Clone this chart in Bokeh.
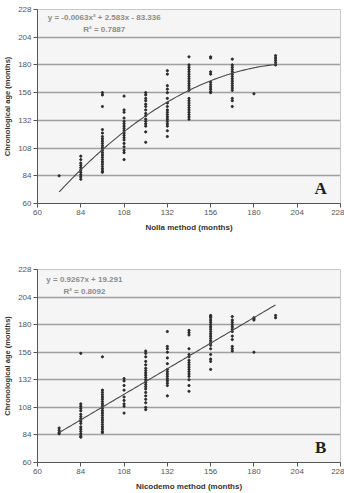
from bokeh.plotting import figure
from bokeh.layouts import column
from bokeh.models import ColumnDataSource, FixedTicker, Label
from bokeh.embed import file_html
from bokeh.resources import INLINE
import numpy as np

# ---- Nolla method (panel A): estimated age -> list of chronological ages
nolla = {
    72: [84],
    84: [81, 83, 85, 87, 89, 91, 93, 95, 98, 101],
    96: [156, 154, 144, 124, 121, 118, 116, 114, 112, 110, 108, 106, 104, 102,
         100, 98, 96, 94, 92, 90, 88, 87],
    108: [153, 141, 139, 134, 131, 129, 127, 125, 123, 121, 119, 117, 115, 112,
          109, 106, 104, 98],
    120: [156, 154, 151, 149, 146, 144, 141, 138, 136, 133, 131, 129, 127, 122,
          113],
    132: [175, 172, 162, 159, 156, 151, 147, 144, 141, 139, 137, 135, 133, 131,
          129, 127, 123, 118],
    144: [187, 180, 178, 176, 174, 172, 170, 168, 166, 164, 162, 160, 158, 151,
          149, 147, 145, 143, 141, 139, 137, 135, 133],
    156: [187, 186, 174, 172, 165, 163, 161, 159, 157, 156],
    168: [185, 180, 178, 176, 174, 172, 170, 168, 166, 164, 162, 160, 158, 151,
          149, 144],
    180: [155],
    192: [188, 186, 184, 182, 180],
}

# ---- Nicodemo method (panel B)
nicodemo = {
    72: [90, 88, 86, 85],
    84: [155, 111, 109, 107, 105, 102, 100, 98, 96, 94, 91, 89, 87, 85, 83, 82],
    96: [152, 123, 121, 119, 117, 115, 113, 111, 109, 107, 105, 103, 101, 99,
         97, 95, 93, 91, 89, 87, 86],
    108: [133, 131, 127, 123, 117, 114, 111, 109, 103],
    120: [157, 155, 152, 148, 145, 142, 140, 138, 136, 134, 132, 130, 128, 126,
          124, 121, 118, 115, 112, 108, 106],
    132: [174, 161, 159, 156, 151, 146, 141, 139, 137, 135, 133, 131, 129, 127,
          118],
    144: [175, 173, 171, 159, 154, 152, 149, 147, 145, 143, 141, 139, 137, 135,
          132, 127, 122],
    156: [188, 187, 186, 184, 182, 180, 178, 176, 174, 172, 170, 168, 166, 164,
          162, 159, 154, 150, 148, 141],
    168: [187, 184, 182, 180, 178, 176, 174, 170, 167, 161, 159, 157],
    180: [186, 185, 184, 156],
    192: [188, 186],
}

# trendline coefficients (highest power first) and labels
poly_a = [-0.0063, 2.583, -83.336]
poly_b = [0.9267, 19.291]
eq_a = ["y = -0.0063x\u00b2 + 2.583x - 83.336", "R\u00b2 = 0.7887"]
eq_b = ["y = 0.9267x + 19.291", "R\u00b2 = 0.8092"]
fit_range = [72, 192]

ticks = [60, 84, 108, 132, 156, 180, 204, 228]
y_title = "Chronological age (months)"

FONT = "Liberation Sans"


def flatten(d):
    xs, ys = [], []
    for k, vals in d.items():
        xs += [k] * len(vals)
        ys += vals
    return xs, ys


def panel(data, poly, eq, eq_x, eq_ys, letter, xtitle, height, top, bottom):
    p = figure(width=344, height=height, x_range=(60, 228), y_range=(60, 228),
               output_backend="svg", toolbar_location=None,
               min_border_left=33, min_border_right=4,
               min_border_top=top, min_border_bottom=bottom)
    p.background_fill_color = "#f5f5f5"
    p.border_fill_color = "white"
    p.outline_line_color = "#c8c8c8"
    p.outline_line_width = 1

    p.xgrid.grid_line_color = None
    p.ygrid.grid_line_color = "#a0a0a0"
    p.ygrid.grid_line_width = 1.3
    p.ygrid.ticker = FixedTicker(ticks=ticks)

    for ax in (p.xaxis[0], p.yaxis[0]):
        ax.ticker = FixedTicker(ticks=ticks)
        ax.minor_tick_line_color = None
        ax.major_tick_in = 0
        ax.major_tick_out = 4
        ax.major_tick_line_color = "#555555"
        ax.axis_line_color = "#555555"
        ax.major_label_text_font = FONT
        ax.major_label_text_font_size = "8px"
        ax.major_label_text_color = "#555555"
        ax.major_label_standoff = 2
        ax.axis_label_text_font = FONT
        ax.axis_label_text_font_style = "bold"
        ax.axis_label_text_color = "#333333"
    p.xaxis.axis_label = xtitle
    p.xaxis.axis_label_text_font_size = "8px"
    p.xaxis.axis_label_standoff = 5
    p.yaxis.axis_label = y_title
    p.yaxis.axis_label_text_font_size = "7.5px"
    p.yaxis.axis_label_standoff = 3

    xs, ys = flatten(data)
    p.scatter(x="x", y="y", source=ColumnDataSource(dict(x=xs, y=ys)),
              size=2.2, color="#2a2a2a", marker="circle")

    fx = np.linspace(fit_range[0], fit_range[1], 120)
    p.line(fx, np.polyval(poly, fx), line_color="#4a4a4a", line_width=1.1)

    for txt, yy in zip(eq, eq_ys):
        p.add_layout(Label(x=eq_x, y=yy, text=txt, text_align="center",
                           text_baseline="middle", text_font=FONT,
                           text_font_size="8px", text_font_style="bold",
                           text_color="#8c8c8c"))
    p.add_layout(Label(x=217, y=73, text=letter, text_align="center",
                       text_baseline="middle", text_font="Liberation Serif",
                       text_font_size="17px", text_font_style="bold",
                       text_color="#222222"))
    return p


pa = panel(nolla, poly_a, eq_a, 97, [221, 210.5], "A", "Nolla method (months)",
           243, 9, 40)
pb = panel(nicodemo, poly_b, eq_b, 86, [219.5, 209], "B", "Nicodemo method (months)",
           250, 26, 28)

layout = column(pa, pb, spacing=0)
open("out.html", "w").write(file_html(layout, INLINE))
